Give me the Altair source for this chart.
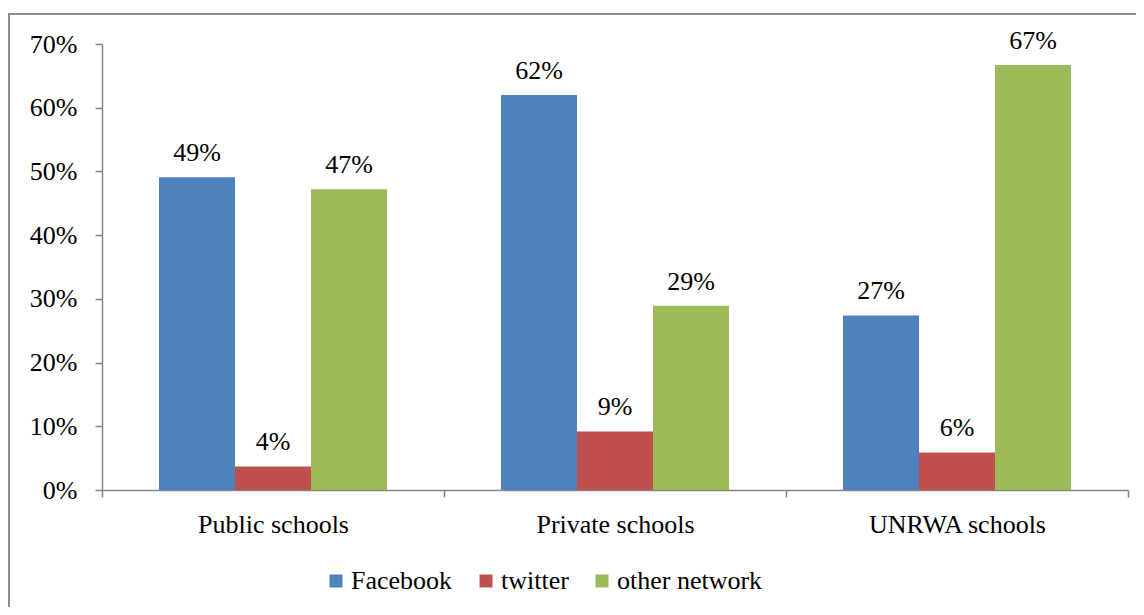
import altair as alt
import pandas as pd

schools = ["Public schools", "Private schools", "UNRWA schools"]
networks = ["Facebook", "twitter", "other network"]
facebook = [0.491, 0.620, 0.274]
twitter = [0.037, 0.092, 0.059]
other = [0.472, 0.289, 0.667]
colors = ["#4F81BD", "#C0504D", "#9BBB59"]

rows = []
for i, s in enumerate(schools):
    for n, vals in zip(networks, [facebook, twitter, other]):
        rows.append({"school": s, "network": n, "value": vals[i]})
df = pd.DataFrame(rows)

FONT = "Liberation Serif"
FS = 26

x = alt.X("school:N", sort=schools, title=None,
          scale=alt.Scale(paddingInner=0, paddingOuter=0),
          axis=alt.Axis(labelAngle=0, tickBand="extent", tickSize=7,
                        labelPadding=14, labelFontSize=FS, labelFont=FONT,
                        labelColor="black", domainColor="#868686",
                        tickColor="#868686", domainWidth=1.5, tickWidth=1.5))
xo = alt.XOffset("network:N", sort=networks,
                 scale=alt.Scale(paddingInner=0, paddingOuter=0.75))
y = alt.Y("value:Q", title=None,
          scale=alt.Scale(domain=[0, 0.7], nice=False),
          axis=alt.Axis(format=".0%", values=[0, .1, .2, .3, .4, .5, .6, .7],
                        grid=False, tickSize=7, labelPadding=18,
                        labelFontSize=FS, labelFont=FONT, labelColor="black",
                        domainColor="#868686", tickColor="#868686",
                        domainWidth=1.5, tickWidth=1.5))
color = alt.Color("network:N", sort=networks,
                  scale=alt.Scale(domain=networks, range=colors),
                  legend=alt.Legend(title=None, orient="none", direction="horizontal",
                                    legendX=221, legendY=524, symbolType="square",
                                    symbolSize=169, symbolStrokeWidth=0,
                                    labelFont=FONT, labelFontSize=FS,
                                    labelColor="black", labelOffset=2,
                                    columnPadding=20, padding=0))

bars = alt.Chart(df).mark_bar().encode(x=x, xOffset=xo, y=y, color=color)
labels = alt.Chart(df).mark_text(baseline="alphabetic", dy=-16, font=FONT,
                                 fontSize=FS, color="black").encode(
    x=x, xOffset=xo, y=y, text=alt.Text("value:Q", format=".0%"))

border = alt.Chart(pd.DataFrame({"a": [0]})).mark_rect(
    fill=None, stroke="#8c8c8c", strokeWidth=2, clip=False).encode(
    x=alt.value(-93), x2=alt.value(1080), y=alt.value(-30), y2=alt.value(640))

chart = alt.layer(border, bars, labels).properties(
    width=1026, height=446,
    autosize=alt.AutoSizeParams(type="none"),
    padding={"left": 94, "top": 36, "right": 8, "bottom": 117},
).configure(background="white").configure_view(stroke=None)

chart.save("out.html", embed_options={"renderer": "svg", "actions": False})
